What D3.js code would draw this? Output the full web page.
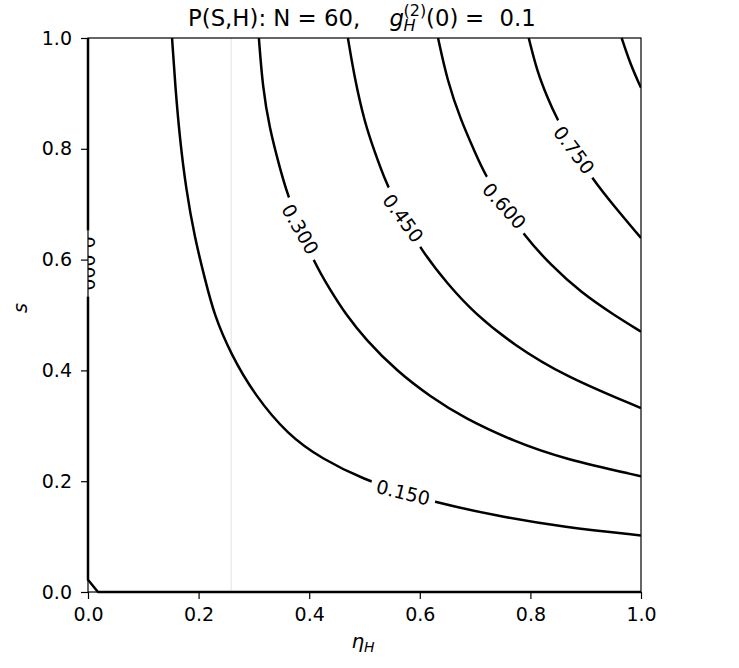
<!DOCTYPE html>
<html>
<head>
<meta charset="utf-8">
<script src="https://cdn.jsdelivr.net/npm/d3@7"></script>
<style>
body { margin: 0; background: #fff; }
text { font-family: "DejaVu Sans", sans-serif; }
</style>
</head>
<body>
<script>
// contour lines, as [eta_H, s] pairs
var c000 = [[0, 1.0], [0, 0.022], [0.018, 0], [1.0, 0]];
var c015 = [[0.152, 1.0], [0.158, 0.910], [0.166, 0.819], [0.177, 0.729], [0.193, 0.639],
  [0.211, 0.567], [0.228, 0.500], [0.259, 0.428], [0.301, 0.356], [0.362, 0.283],
  [0.422, 0.241], [0.501, 0.202], [0.570, 0.180], [0.623, 0.163], [0.740, 0.137],
  [0.861, 0.117], [1.0, 0.102]];
var c030 = [[0.309, 1.0], [0.316, 0.910], [0.328, 0.838], [0.347, 0.765], [0.360, 0.720],
  [0.384, 0.655], [0.409, 0.595], [0.438, 0.545], [0.467, 0.500], [0.501, 0.457],
  [0.559, 0.398], [0.620, 0.352], [0.680, 0.314], [0.770, 0.272], [0.861, 0.240], [1.0, 0.209]];
var c045 = [[0.470, 1.0], [0.482, 0.928], [0.501, 0.845], [0.517, 0.799], [0.538, 0.740],
  [0.570, 0.675], [0.602, 0.618], [0.650, 0.556], [0.700, 0.502], [0.770, 0.446],
  [0.861, 0.390], [1.0, 0.332]];
var c060 = [[0.633, 1.0], [0.650, 0.922], [0.674, 0.852], [0.701, 0.791], [0.717, 0.755],
  [0.753, 0.697], [0.788, 0.644], [0.837, 0.590], [0.891, 0.541], [0.951, 0.500], [1.0, 0.470]];
var c075 = [[0.797, 1.0], [0.812, 0.940], [0.831, 0.892], [0.847, 0.856], [0.879, 0.798],
  [0.912, 0.746], [0.951, 0.697], [1.0, 0.639]];
var c090 = [[0.965, 1.0], [0.981, 0.952], [1.0, 0.910]];

var contours = [c000, c015, c030, c045, c060, c075, c090];

// inline labels: text, position (eta, s) and angle
var labelText = ["0.000", "0.150", "0.300", "0.450", "0.600", "0.750"];
var labelEta = [0, 0.570, 0.384, 0.570, 0.753, 0.879];
var labelS = [0.593, 0.180, 0.655, 0.675, 0.697, 0.798];
var labelAngle = [90, 14, 60, 54, 48, 53];

var xTicks = [0, 0.2, 0.4, 0.6, 0.8, 1.0];
var yTicks = [0, 0.2, 0.4, 0.6, 0.8, 1.0];
var markerEta = 0.259;

var margin = { top: 38, right: 98, bottom: 76, left: 88 },
  width = 739 - margin.left - margin.right,
  height = 668 - margin.top - margin.bottom;

var root = d3
  .select("body")
  .append("svg")
  .attr("width", width + margin.left + margin.right)
  .attr("height", height + margin.top + margin.bottom);

var svg = root
  .append("g")
  .attr("transform", "translate(" + margin.left + "," + margin.top + ")");

var x = d3.scaleLinear().domain([0, 1]).range([0, width]);
var y = d3.scaleLinear().domain([0, 1]).range([height, 0]);

var defs = root.append("defs");
defs.append("clipPath").attr("id", "plotclip")
  .append("rect").attr("width", width).attr("height", height);
// a bit wider so the edge contour keeps its full width
defs.append("clipPath").attr("id", "lineclip")
  .append("rect").attr("x", -2).attr("y", -1).attr("width", width + 2).attr("height", height + 3);

var mask = defs.append("mask").attr("id", "labelmask")
  .attr("maskUnits", "userSpaceOnUse")
  .attr("x", -margin.left).attr("y", -margin.top)
  .attr("width", 739).attr("height", 668);
mask.append("rect")
  .attr("x", -margin.left).attr("y", -margin.top)
  .attr("width", 739).attr("height", 668)
  .attr("fill", "white");

// faint vertical marker
svg.append("line")
  .attr("x1", x(markerEta)).attr("x2", x(markerEta))
  .attr("y1", 0).attr("y2", height)
  .attr("stroke", "#ececec")
  .attr("stroke-width", 1.5);

// labels first, so their boxes can cut the lines
var labels = svg.append("g").attr("clip-path", "url(#plotclip)");
labelText.forEach(function (t, i) {
  var tr = "translate(" + x(labelEta[i]) + "," + y(labelS[i]) + ") rotate(" + labelAngle[i] + ")";
  var txt = labels.append("text")
    .attr("transform", tr)
    .attr("text-anchor", "middle")
    .attr("dominant-baseline", "central")
    .style("font-size", "19px")
    .text(t);
  var bb = txt.node().getBBox();
  mask.append("rect")
    .attr("transform", tr)
    .attr("x", bb.x - 6).attr("y", bb.y)
    .attr("width", bb.width + 12).attr("height", bb.height)
    .attr("fill", "black");
});

var line = d3.line()
  .x(function (d) { return x(d[0]); })
  .y(function (d) { return y(d[1]); })
  .curve(d3.curveBasis);

var lineStraight = d3.line()
  .x(function (d) { return x(d[0]); })
  .y(function (d) { return y(d[1]); });

svg.append("g")
  .attr("clip-path", "url(#lineclip)")
  .append("g")
  .attr("mask", "url(#labelmask)")
  .selectAll("path")
  .data(contours)
  .enter()
  .append("path")
  .attr("d", function (d, i) { return i === 0 ? lineStraight(d) : line(d); })
  .attr("fill", "none")
  .attr("stroke", "black")
  .attr("stroke-width", 2.5)
  .attr("stroke-linejoin", "round");

// spines
svg.append("rect")
  .attr("width", width).attr("height", height)
  .attr("fill", "none")
  .attr("stroke", "black")
  .attr("stroke-width", 1.2);

var xAxis = svg.append("g")
  .attr("transform", "translate(0," + height + ")")
  .call(d3.axisBottom(x).tickValues(xTicks).tickFormat(d3.format(".1f")).tickSize(7).tickPadding(9))
  .style("font-size", "19px");
var yAxis = svg.append("g")
  .call(d3.axisLeft(y).tickValues(yTicks).tickFormat(d3.format(".1f")).tickSize(7).tickPadding(9))
  .style("font-size", "19px");
[xAxis, yAxis].forEach(function (a) {
  a.select(".domain").remove();
  a.selectAll("line").attr("stroke-width", 1.2);
  a.selectAll("text").style("font-family", "DejaVu Sans");
});

// title with g_H^(2), pieces placed like the mathtext layout
var title = svg.append("text")
  .attr("y", -12)
  .style("font-size", "22.8px");
title.append("tspan").attr("x", 100).text("P(S,H): N = 60,");
title.append("tspan").attr("x", 301.5).style("font-style", "italic").text("g");
title.append("tspan").attr("x", 315.5).attr("dy", 5)
  .style("font-style", "italic").style("font-size", "16px").text("H");
title.append("tspan").attr("x", 315.5).attr("dy", -15)
  .style("font-size", "16px").text("(2)");
title.append("tspan").attr("x", 338).attr("dy", 10).text("(0)");
title.append("tspan").attr("x", 377).text("=");
title.append("tspan").attr("x", 411.5).text("0.1");

// axis labels
var xl = svg.append("text")
  .attr("x", 275)
  .attr("y", 610)
  .attr("text-anchor", "middle")
  .style("font-size", "20px");
xl.append("tspan").style("font-style", "italic").text("η");
xl.append("tspan").style("font-style", "italic").style("font-size", "14px")
  .attr("dy", 4).text("H");

svg.append("text")
  .attr("transform", "translate(-61," + 270 + ") rotate(-90)")
  .attr("text-anchor", "middle")
  .style("font-size", "19px")
  .style("font-style", "italic")
  .text("s");
</script>
</body>
</html>
